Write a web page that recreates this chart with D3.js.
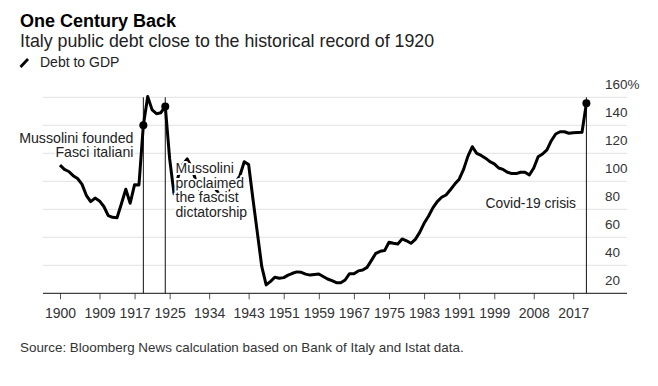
<!DOCTYPE html>
<html>
<head>
<meta charset="utf-8">
<script src="https://cdn.jsdelivr.net/npm/d3@7"></script>
<style>
  html, body { margin: 0; padding: 0; background: #fff; }
  svg { display: block; font-family: "Liberation Sans", Arial, sans-serif; }
</style>
</head>
<body>
<svg id="chart" width="658" height="386"></svg>
<script>
// ---- Data ----
const years = d3.range(1900, 2021);
const debtToGdp = [
  111.6, 108.5, 107.0, 104.0, 102.0, 98.0, 90.0, 85.5, 88.0, 86.0,   // 1900-1909
  82.0, 75.5, 74.3, 74.0, 84.0, 94.3, 84.3, 97.6, 97.4, 140.0,       // 1910-1919
  160.5, 151.0, 148.3, 149.0, 153.5, 116.0, 91.0, 104.0, 112.0, 116.0, // 1920-1929
  110.0, 100.0, 93.0, 96.0, 100.0, 97.0, 92.0, 88.0, 92.0, 96.0,     // 1930-1939
  99.0, 104.0, 114.0, 112.0, 87.0, 63.0, 39.0, 26.0, 28.5, 31.5,     // 1940-1949
  30.8, 31.2, 33.0, 34.3, 35.3, 35.0, 33.7, 33.0, 33.5, 33.8,        // 1950-1959
  32.0, 30.2, 29.0, 27.6, 27.6, 29.5, 34.0, 34.0, 36.0, 36.6,        // 1960-1969
  38.5, 43.5, 48.6, 50.0, 50.5, 56.5, 55.7, 55.2, 58.8, 57.5,        // 1970-1979
  55.7, 58.5, 63.5, 70.0, 75.0, 81.0, 85.5, 88.6, 90.2, 94.0,        // 1980-1989
  98.0, 101.5, 108.5, 118.0, 124.7, 120.0, 118.5, 116.5, 114.0, 112.5, // 1990-1999
  109.5, 108.5, 106.5, 105.5, 105.5, 106.5, 106.5, 104.5, 109.5, 117.5, // 2000-2009
  119.5, 122.5, 129.0, 133.8, 135.4, 135.4, 134.3, 134.6, 134.8, 135.0, // 2010-2019
  155.8                                                               // 2020
];
const xTickYears = [1900, 1909, 1917, 1925, 1934, 1943, 1951, 1959, 1967, 1975, 1983, 1991, 1999, 2008, 2017];
const yTicks = [20, 40, 60, 80, 100, 120, 140, 160];
const eventYears = [1919, 1924, 2020];
const titleText = "One Century Back";
const subtitleText = "Italy public debt close to the historical record of 1920";
const legendText = "Debt to GDP";
const sourceText = "Source: Bloomberg News calculation based on Bank of Italy and Istat data.";
const note1 = ["Mussolini founded", "Fasci italiani"];
const note2 = ["Mussolini", "proclaimed", "the fascist", "dictatorship"];
const note3 = ["Covid-19 crisis"];

// ---- Layout ----
const svg = d3.select("#chart");
const x = d3.scaleLinear().domain([1900, 2020]).range([60, 586.4]);
const y = d3.scaleLinear().domain([20, 160]).range([293.3, 97.3]);
const gridX0 = 43, gridX1 = 627;

const data = years.map((yr, i) => ({ year: yr, value: debtToGdp[i] }));
const byYear = new Map(data.map(d => [d.year, d.value]));

// Titles
svg.append("text").attr("x", 20).attr("y", 27)
  .attr("font-size", 18).attr("font-weight", "bold").attr("fill", "#000")
  .text(titleText);
svg.append("text").attr("x", 20).attr("y", 47)
  .attr("font-size", 17.8).attr("fill", "#222")
  .text(subtitleText);

// Legend
svg.append("line").attr("x1", 20.5).attr("y1", 67).attr("x2", 28).attr("y2", 59)
  .attr("stroke", "#000").attr("stroke-width", 2.8).attr("stroke-linecap", "butt");
svg.append("text").attr("x", 40).attr("y", 67)
  .attr("font-size", 14).attr("fill", "#222").text(legendText);

// Gridlines
svg.append("g").selectAll("line").data(yTicks.filter(v => v > 20)).join("line")
  .attr("x1", gridX0).attr("x2", gridX1)
  .attr("y1", d => y(d)).attr("y2", d => y(d))
  .attr("stroke", "#e2e2e2").attr("stroke-width", 1);

// Y labels (above their gridlines, right side)
svg.append("g").selectAll("text").data(yTicks).join("text")
  .attr("x", 605).attr("y", d => y(d) - 8.5)
  .attr("font-size", 13.5).attr("fill", "#333")
  .text(d => d === 160 ? d + "%" : d);

// X axis
const xAxis = d3.axisBottom(x).tickValues(xTickYears).tickFormat(d3.format("d"))
  .tickSize(6).tickSizeOuter(0);
const gx = svg.append("g").attr("transform", `translate(0,${y(20)})`).call(xAxis);
gx.select(".domain").remove();
gx.selectAll(".tick line").attr("stroke", "#555");
gx.selectAll(".tick text").attr("dy", null).attr("y", 25)
  .attr("font-size", 14).attr("fill", "#333")
  .attr("font-family", "Liberation Sans, Arial, sans-serif");
svg.append("line").attr("x1", gridX0).attr("x2", gridX1)
  .attr("y1", y(20)).attr("y2", y(20)).attr("stroke", "#111").attr("stroke-width", 1);

// Event vertical lines
svg.append("g").selectAll("line").data(eventYears).join("line")
  .attr("x1", d => x(d)).attr("x2", d => x(d))
  .attr("y1", y(160)).attr("y2", y(20))
  .attr("stroke", "#111").attr("stroke-width", 1);

// Data line
const line = d3.line().x(d => x(d.year)).y(d => y(d.value)).curve(d3.curveLinear);
svg.append("path").datum(data)
  .attr("d", line).attr("fill", "none")
  .attr("stroke", "#000").attr("stroke-width", 3).attr("stroke-linejoin", "round");

// Event dots
svg.append("g").selectAll("circle").data(eventYears).join("circle")
  .attr("cx", d => x(d)).attr("cy", d => y(byYear.get(d)))
  .attr("r", 4).attr("fill", "#000");

// Annotations (with white halo)
function note(lines, xPos, yPos, anchor, lh, fs) {
  const t = svg.append("text").attr("font-size", fs).attr("fill", "#222")
    .attr("text-anchor", anchor)
    .attr("stroke", "#fff").attr("stroke-width", 4).attr("stroke-linejoin", "round")
    .attr("paint-order", "stroke");
  lines.forEach((s, i) => {
    t.append("tspan").attr("x", xPos).attr("y", yPos + i * lh).text(s);
  });
}
note(note1, 133.5, 142.5, "end", 14.6, 14.2);
note(note2, 175.5, 173, "start", 14.7, 14);
note(note3, 576, 207.5, "end", 14.6, 13.8);

// Source
svg.append("text").attr("x", 20).attr("y", 351.5)
  .attr("font-size", 13.4).attr("fill", "#333").text(sourceText);
</script>
</body>
</html>
